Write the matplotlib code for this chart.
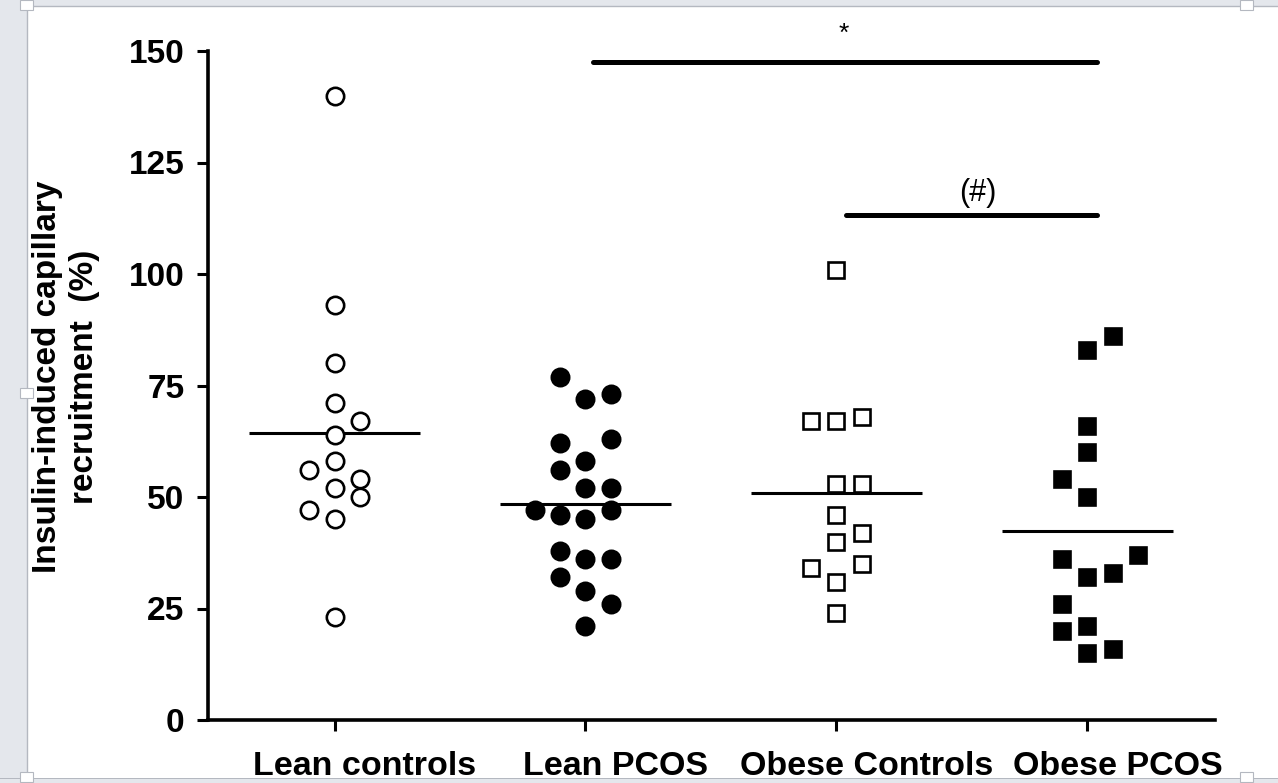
import matplotlib
matplotlib.use("Agg")
import matplotlib.pyplot as plt
import numpy as np
from matplotlib.patches import Rectangle
from matplotlib.transforms import ScaledTranslation

plt.rcParams['font.family'] = ['Liberation Sans', 'DejaVu Sans']

# ---------------- data ----------------
categories = ["Lean controls", "Lean PCOS", "Obese Controls", "Obese PCOS"]

lean_controls = [140, 93, 80, 71, 67, 64, 58, 56, 54, 52, 50, 47, 45, 23]
lean_controls_slot = [0, 0, 0, 0, 1, 0, 0, -1, 1, 0, 1, -1, 0, 0]

lean_pcos = [77, 72, 73, 62, 63, 58, 56, 52, 52, 47, 46, 45, 47, 38, 36, 36, 32, 29, 26, 21]
lean_pcos_slot = [-1, 0, 1, -1, 1, 0, -1, 0, 1, -2, -1, 0, 1, -1, 0, 1, -1, 0, 1, 0]

obese_controls = [101, 67, 67, 68, 53, 53, 46, 42, 40, 34, 35, 31, 24]
obese_controls_slot = [0, -1, 0, 1, 0, 1, 0, 1, 0, -1, 1, 0, 0]

obese_pcos = [86, 83, 66, 60, 54, 50, 36, 32, 33, 37, 26, 20, 21, 15, 16]
obese_pcos_slot = [1, 0, 0, 0, -1, 0, -1, 0, 1, 2, -1, -1, 0, 0, 1]

yticks = [0, 25, 50, 75, 100, 125, 150]

sig_star = (2.03, 4.036, 147.5, "*")
sig_hash = (3.036, 4.036, 113.2, "(#)")

# ---------------- figure ----------------
W, H, DPI = 1278, 783, 100
fig = plt.figure(figsize=(W / DPI, H / DPI), dpi=DPI)
fig.patch.set_facecolor('#e4e7ec')

def px(x0, y0, w, h):
    # convert top-origin pixel box to figure fraction
    return (x0 / W, 1 - (y0 + h) / H, w / W, h / H)

# white page panel
bx = px(27, 6, 1260, 773)
fig.patches.append(Rectangle(bx[:2], bx[2], bx[3], transform=fig.transFigure,
                             facecolor='white', edgecolor='#b4b8c0', lw=1.0, zorder=-5))

ax = fig.add_axes([208 / W, 63 / H, (1215 - 208) / W, (720 - 51) / H])
ax.set_facecolor('none')

spacing = 0.1
groups = [
    (lean_controls, lean_controls_slot, 'o', 'white'),
    (lean_pcos, lean_pcos_slot, 'o', 'black'),
    (obese_controls, obese_controls_slot, 's', 'white'),
    (obese_pcos, obese_pcos_slot, 's', 'black'),
]
for i, (vals, slots, mk, fc) in enumerate(groups):
    xpos = i + 1 + spacing * np.array(slots)
    ax.plot(xpos, vals, linestyle='none', marker=mk, ms=12.5 if mk == 'o' else 12,
            mfc=fc, mec='black', mew=1.9, clip_on=False, zorder=3)
    m = np.mean(vals)
    ax.plot([i + 1 - 0.34, i + 1 + 0.34], [m, m], color='black', lw=2.2,
            solid_capstyle='butt', zorder=2)

# significance bars
for x0, x1, y, lab in (sig_star, sig_hash):
    ax.plot([x0, x1], [y, y], color='black', lw=3.6, solid_capstyle='round',
            clip_on=False, zorder=2)
ax.text(3.03, 153.8, sig_star[3], ha='center', va='center', fontsize=19,
        clip_on=False)
ax.text(3.564, 118.2, sig_hash[3], ha='center', va='center', fontsize=22,
        clip_on=False)

ax.set_xlim(0.496, 4.508)
ax.set_ylim(0, 150)
ax.set_yticks(yticks)
ax.set_yticklabels([str(t) for t in yticks], fontsize=24, fontweight='bold')
ax.set_xticks([1, 2, 3, 4])
ax.set_xticklabels(categories, fontsize=24.5, fontweight='bold')

for s in ['top', 'right']:
    ax.spines[s].set_visible(False)
for s in ['left', 'bottom']:
    ax.spines[s].set_linewidth(2.6)
ax.tick_params(axis='y', direction='out', length=8, width=2.2, pad=9)
ax.tick_params(axis='x', direction='out', length=8, width=2.2, pad=14)

shift = ScaledTranslation(30 / DPI, 0, fig.dpi_scale_trans)
for lab in ax.get_xticklabels():
    lab.set_transform(lab.get_transform() + shift)

# y label (two lines)
fig.text(66 / W, 1 - 377 / H, "Insulin-induced capillary\nrecruitment  (%)",
         rotation=90, ha='center', va='center', multialignment='center',
         fontsize=24, fontweight='bold', linespacing=1.25)

# bottom page strip (covers clipped label bottoms)
fig.patches.append(Rectangle((0, 0), 1, 4 / H, transform=fig.transFigure,
                             facecolor='#e4e7ec', edgecolor='none', zorder=10))
fig.patches.append(Rectangle((0, 4 / H), 1, 0.8 / H, transform=fig.transFigure,
                             facecolor='#b4b8c0', edgecolor='none', zorder=10))

# small selection handles
for hx, hy in [(20, 0), (1240, 0), (20, 388), (20, 772), (1240, 772)]:
    b = px(hx, hy, 13, 10)
    fig.patches.append(Rectangle(b[:2], b[2], b[3], transform=fig.transFigure,
                                 facecolor='white', edgecolor='#b4b8c0', lw=0.8, zorder=11))

fig.savefig("out.png", dpi=DPI, facecolor=fig.get_facecolor())
